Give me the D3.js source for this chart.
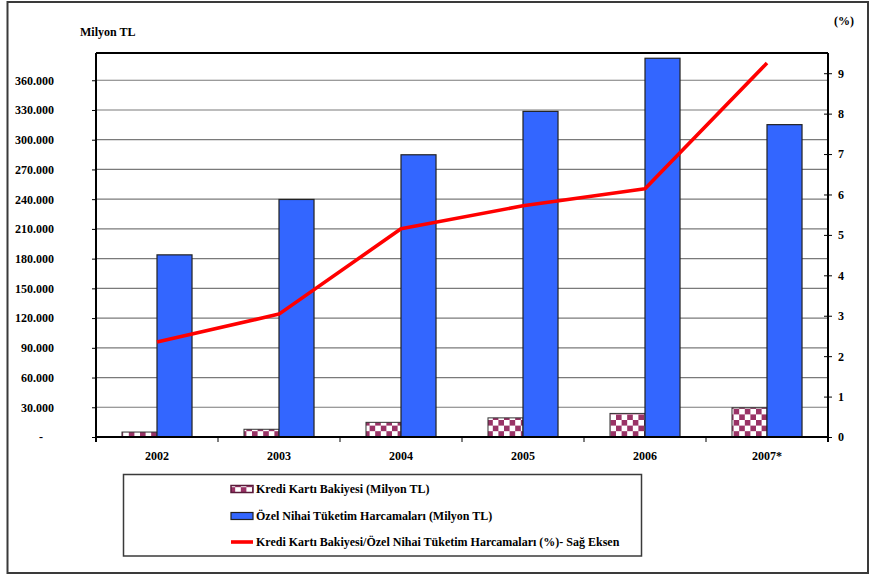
<!DOCTYPE html>
<html>
<head>
<meta charset="utf-8">
<script src="https://cdn.jsdelivr.net/npm/d3@7"></script>
<style>
  html, body { margin: 0; padding: 0; background: #fff; }
</style>
</head>
<body>
<svg id="chart" width="875" height="578"></svg>
<script>
// Categories and series
const years = ["2002", "2003", "2004", "2005", "2006", "2007*"];
const krediBakiye = [5000, 7800, 14800, 19300, 23800, 29500];          // Milyon TL
const ozelTuketim = [183800, 239700, 284800, 328600, 382200, 315200];  // Milyon TL
const oran = [2.35, 3.04, 5.15, 5.72, 6.14, 9.25];                     // %, right axis
const leftTicks = [0, 30000, 60000, 90000, 120000, 150000, 180000, 210000, 240000, 270000, 300000, 330000, 360000];
const rightTicks = [0, 1, 2, 3, 4, 5, 6, 7, 8, 9];
const legendLabels = [
  "Kredi Kartı Bakiyesi (Milyon TL)",
  "Özel Nihai Tüketim Harcamaları (Milyon TL)",
  "Kredi Kartı Bakiyesi/Özel Nihai Tüketim Harcamaları (%)- Sağ Eksen"
];

const FONT = "'Liberation Serif', 'Times New Roman', 'DejaVu Serif', serif";

const svg = d3.select("#chart");
const plot = { left: 96, right: 828, top: 53, bottom: 437 };

// Checkerboard fill for the card balance bars
const defs = svg.append("defs");
const cell = 5.6;
const pat = defs.append("pattern")
  .attr("id", "checker")
  .attr("patternUnits", "userSpaceOnUse")
  .attr("width", cell * 2).attr("height", cell * 2);
pat.append("rect").attr("width", cell * 2).attr("height", cell * 2).attr("fill", "#fff");
pat.append("rect").attr("x", 0).attr("y", 0).attr("width", cell).attr("height", cell).attr("fill", "#993366");
pat.append("rect").attr("x", cell).attr("y", cell).attr("width", cell).attr("height", cell).attr("fill", "#993366");

// Outer frame
svg.append("rect")
  .attr("x", 7.5).attr("y", 2).attr("width", 860.5).attr("height", 571)
  .attr("fill", "#fff").attr("stroke", "#3a3a3a").attr("stroke-width", 2);

const x = d3.scaleBand().domain(years).range([plot.left, plot.right]).paddingInner(0).paddingOuter(0);
const yL = d3.scaleLinear().domain([0, 387500]).range([plot.bottom, plot.top]);
const yR = d3.scaleLinear().domain([0, 9.5]).range([plot.bottom, plot.top]);

// Gridlines
svg.append("g").selectAll("line")
  .data(leftTicks.filter(d => d > 0))
  .join("line")
  .attr("x1", plot.left).attr("x2", plot.right)
  .attr("y1", d => yL(d)).attr("y2", d => yL(d))
  .attr("stroke", "#7a7a7a").attr("stroke-width", 1.2);

// Bars
const bw = x.bandwidth() * 0.287;
const groups = svg.append("g").selectAll("g")
  .data(years.map((y, i) => ({ y, k: krediBakiye[i], o: ozelTuketim[i] })))
  .join("g");
groups.append("rect")
  .attr("x", d => x(d.y) + x.bandwidth() / 2 - bw)
  .attr("y", d => yL(d.k))
  .attr("width", bw)
  .attr("height", d => yL(0) - yL(d.k))
  .attr("fill", "url(#checker)")
  .attr("stroke", "#333").attr("stroke-width", 1);
groups.append("rect")
  .attr("x", d => x(d.y) + x.bandwidth() / 2)
  .attr("y", d => yL(d.o))
  .attr("width", bw)
  .attr("height", d => yL(0) - yL(d.o))
  .attr("fill", "#3366FF")
  .attr("stroke", "#222").attr("stroke-width", 1.2);

// Ratio line (right axis)
const line = d3.line()
  .x((d, i) => x(years[i]) + x.bandwidth() / 2)
  .y(d => yR(d));
svg.append("path")
  .datum(oran)
  .attr("d", line)
  .attr("fill", "none")
  .attr("stroke", "#FF0000")
  .attr("stroke-width", 3.6)
  .attr("stroke-linejoin", "round");

// Left axis
const fmt = d => d === 0 ? "-" : d3.format(",")(d).replace(/,/g, ".");
const gL = svg.append("g")
  .attr("transform", `translate(${plot.left},0)`)
  .call(d3.axisLeft(yL).tickValues(leftTicks).tickSize(4).tickPadding(38).tickFormat(fmt));
gL.select(".domain").remove();
gL.selectAll(".tick line").attr("stroke", "#000");
gL.selectAll(".tick").filter(d => d === 0).select("text").attr("x", -53);

// Right axis
const gR = svg.append("g")
  .attr("transform", `translate(${plot.right},0)`)
  .call(d3.axisRight(yR).tickValues(rightTicks).tickSize(4).tickPadding(6).tickFormat(d3.format("d")));
gR.select(".domain").remove();
gR.selectAll(".tick line").attr("x1", -4).attr("stroke", "#000");

// Bottom axis: ticks at category boundaries
const gB = svg.append("g").attr("transform", `translate(0,${plot.bottom})`);
gB.selectAll("line.tk")
  .data(years.slice(1))
  .join("line")
  .attr("x1", d => x(d)).attr("x2", d => x(d))
  .attr("y1", 0).attr("y2", 5)
  .attr("stroke", "#000");
gB.selectAll("text")
  .data(years)
  .join("text")
  .attr("x", d => x(d) + x.bandwidth() / 2)
  .attr("y", 23)
  .attr("text-anchor", "middle")
  .text(d => d);

// Plot frame
const frame = svg.append("g").attr("stroke", "#000").attr("stroke-width", 2).attr("fill", "none");
frame.append("line").attr("x1", plot.left).attr("x2", plot.right).attr("y1", plot.top).attr("y2", plot.top);
frame.append("line").attr("x1", plot.left).attr("x2", plot.right).attr("y1", plot.bottom).attr("y2", plot.bottom);
frame.append("line").attr("x1", plot.left).attr("x2", plot.left).attr("y1", plot.top).attr("y2", plot.bottom + 5);
frame.append("line").attr("x1", plot.right).attr("x2", plot.right).attr("y1", plot.top).attr("y2", plot.bottom + 5);

// Axis titles
svg.append("text").attr("x", 80).attr("y", 36).text("Milyon TL");
svg.append("text").attr("x", 834).attr("y", 25).text("(%)");

// Legend
const lg = svg.append("g");
lg.append("rect")
  .attr("x", 123.5).attr("y", 474.5).attr("width", 518).attr("height", 81.5)
  .attr("fill", "#fff").attr("stroke", "#3a3a3a").attr("stroke-width", 1.5);
const sx = 231, sw = 22;
lg.append("rect").attr("x", sx).attr("y", 485.5).attr("width", sw).attr("height", 7)
  .attr("fill", "url(#checker)").attr("stroke", "#5a1a3a").attr("stroke-width", 1.5);
lg.append("rect").attr("x", sx).attr("y", 512.5).attr("width", sw).attr("height", 7)
  .attr("fill", "#3366FF").attr("stroke", "#222").attr("stroke-width", 1.2);
lg.append("line").attr("x1", sx).attr("x2", sx + sw).attr("y1", 542).attr("y2", 542)
  .attr("stroke", "#FF0000").attr("stroke-width", 3.6);
lg.selectAll("text.lab")
  .data(legendLabels)
  .join("text")
  .attr("x", 256)
  .attr("y", (d, i) => 493 + i * 26.5)
  .text(d => d);

// Shared text styling: bold serif throughout
svg.selectAll("text")
  .attr("font-family", null)
  .style("font-family", FONT)
  .style("font-weight", "bold")
  .style("font-size", "12px")
  .attr("fill", "#000");
</script>
</body>
</html>
